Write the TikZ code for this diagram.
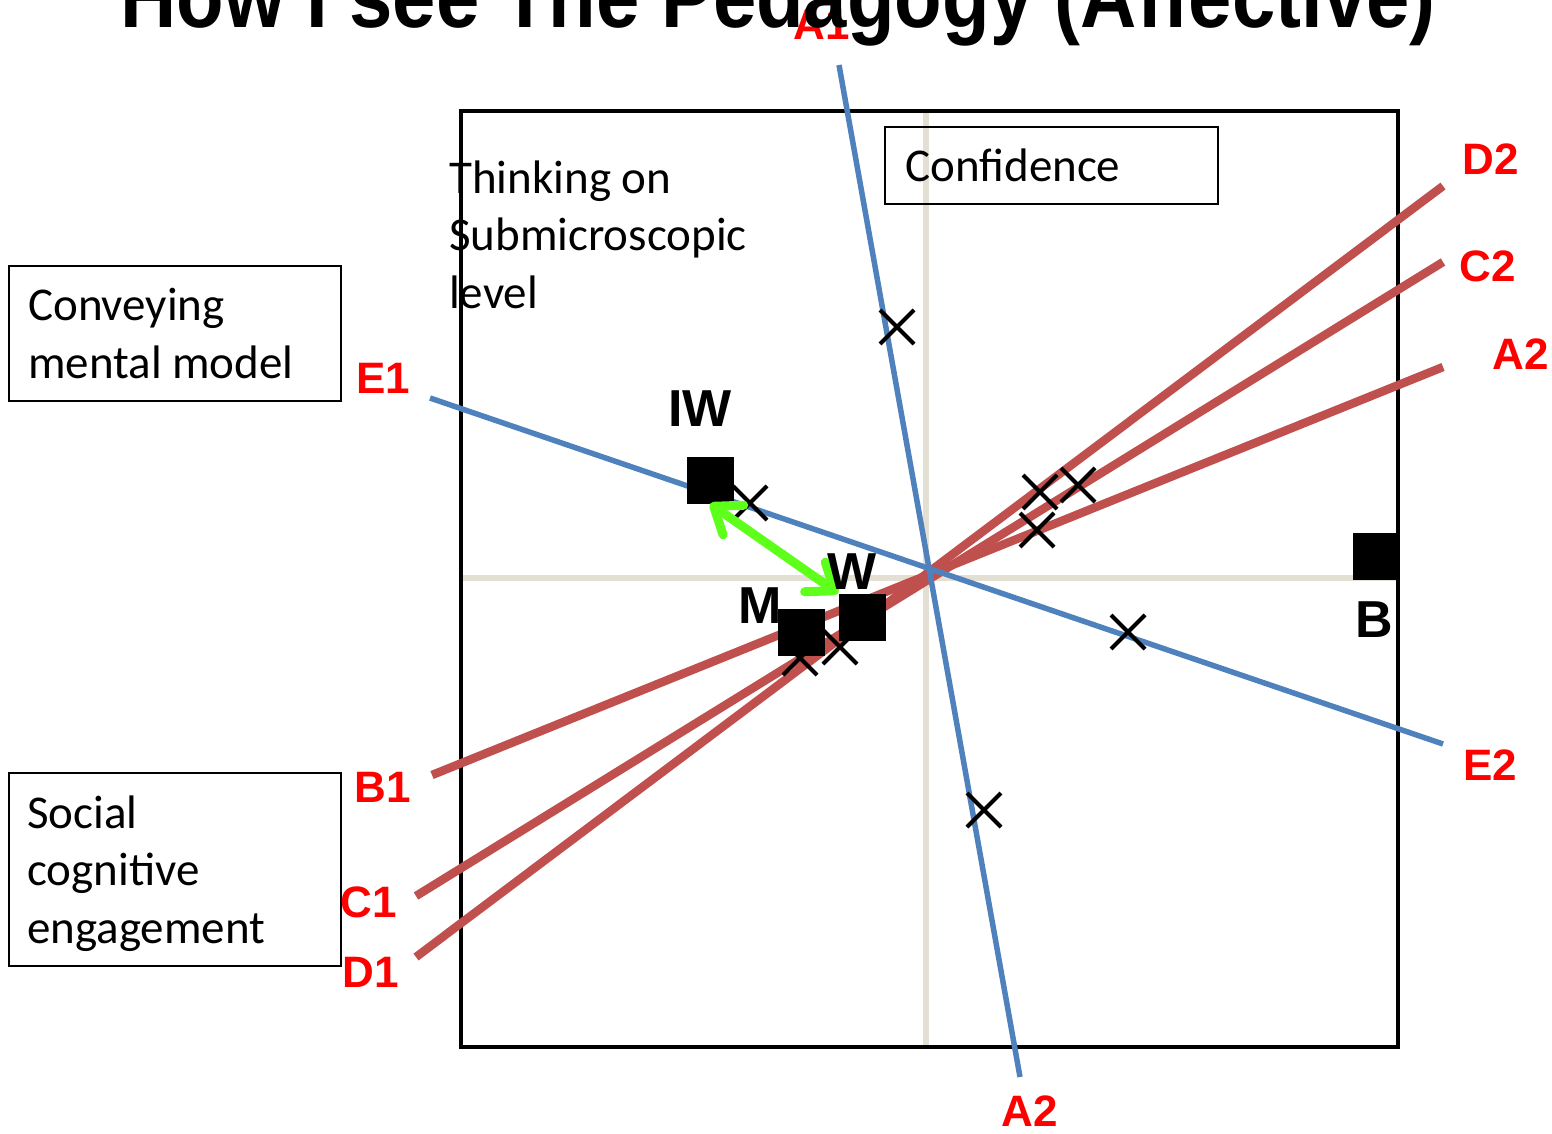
\documentclass[tikz,border=0pt]{standalone}
\usepackage{fontspec}
\setmainfont{Carlito}
\newfontfamily\labfont{Liberation Sans}
\usetikzlibrary{shapes.misc,arrows.meta}
\definecolor{axisgray}{HTML}{E3E0D3}
\definecolor{lineblue}{HTML}{4F81BD}
\definecolor{linered}{HTML}{C0504D}
\definecolor{labred}{HTML}{FF0000}
\definecolor{arrowgreen}{HTML}{5EFF1A}
\tikzset{
  axisline/.style={draw=axisgray, line width=5.5pt},
  frameline/.style={draw=black, line width=4.5pt},
  blueline/.style={draw=lineblue, line width=5.5pt},
  redline/.style={draw=linered, line width=8.5pt},
  textbox/.style={draw=black, line width=1.8pt, inner sep=0pt, anchor=north west},
  boxtext/.style={font=\fontsize{47}{57.5}\selectfont, align=left, anchor=base west, inner sep=0pt},
  redlabel/.style={font=\labfont\bfseries\fontsize{44}{44}\selectfont, text=labred, inner sep=0pt},
  blacklabel/.style={font=\labfont\bfseries\fontsize{52}{52}\selectfont, text=black, inner sep=0pt},
  xmark/.style={cross out, draw=black, line width=4pt, minimum size=30pt, inner sep=0pt},
  sqmark/.style={fill=black, minimum size=47pt, inner sep=0pt},
  greenarrow/.style={draw=arrowgreen, line width=9pt, line cap=round,
    {Straight Barb[length=24pt,width=36pt,round]}-{Straight Barb[length=24pt,width=36pt,round]}}
}
\begin{document}
\begin{tikzpicture}[x=1pt,y=-1pt]
\useasboundingbox (0,0) rectangle (1552,1133);
% axes
\coordinate (axT) at (926,111);
\coordinate (axB) at (926,1047);
\coordinate (axL) at (461,578);
\coordinate (axR) at (1398,578);
\draw[axisline] (axT) -- (axB);
\draw[axisline] (axL) -- (axR);
% frame
\coordinate (frNW) at (461,111);
\coordinate (frSE) at (1398,1047);
\draw[frameline] (frNW) rectangle (frSE);
% text boxes
\node[textbox, minimum width=332pt, minimum height=135pt] (convbox) at (8,265) {};
\node[boxtext] (convtext) at (28,378) {Conveying\\mental model};
\node[textbox, minimum width=332pt, minimum height=193pt] (socbox) at (8,772) {};
\node[boxtext] (soctext) at (27,943) {Social\\cognitive\\engagement};
\node[textbox, minimum width=333pt, minimum height=77pt] (confbox) at (884,126) {};
\node[boxtext] (conftext) at (905,181) {Confidence};
\node[boxtext] (thinktext) at (449,308) {Thinking on\\Submicroscopic\\level};
% line end points
\coordinate (pB1) at (432,775);
\coordinate (pA2r) at (1443,367);
\coordinate (pC1) at (416,896);
\coordinate (pC2) at (1443,262);
\coordinate (pD1) at (416,957);
\coordinate (pD2) at (1443,186);
\coordinate (pA1) at (839,65);
\coordinate (pA2b) at (1020,1077);
\coordinate (pE1) at (430,398);
\coordinate (pE2) at (1443,744);
% red lines
\draw[redline] (pB1) -- (pA2r);
\draw[redline] (pC1) -- (pC2);
\draw[redline] (pD1) -- (pD2);
% blue lines
\draw[blueline] (pA1) -- (pA2b);
\draw[blueline] (pE1) -- (pE2);
% crosses
\node[xmark] (x1) at (897,327) {};
\node[xmark] (x2) at (750,503) {};
\node[xmark] (x3) at (1128,632) {};
\node[xmark] (x4) at (984,810) {};
\node[xmark] (x5) at (1040,492) {};
\node[xmark] (x6) at (1078,485) {};
\node[xmark] (x7) at (1037,530) {};
\node[xmark] (x8) at (800,658) {};
\node[xmark] (x9) at (840,647) {};
% squares
\node[sqmark] (sqIW) at (710,480) {};
\node[sqmark] (sqM) at (801,632) {};
\node[sqmark] (sqW) at (862,617) {};
\node[sqmark] (sqB) at (1376,556) {};
% green arrow
\draw[greenarrow] (sqIW.south) -- (sqW.north west);
% black labels
\node[blacklabel] (lIW) at (700,409) {IW};
\node[blacklabel] (lW) at (852,572) {W};
\node[blacklabel] (lM) at (760,606) {M};
\node[blacklabel] (lB) at (1374,620) {B};
% red labels
\node[redlabel] (lA1) at (822,24) {A1};
\node[redlabel] (lD2) at (1491,159) {D2};
\node[redlabel] (lC2) at (1488,266) {C2};
\node[redlabel] (lA2r) at (1521,354) {A2};
\node[redlabel] (lE1) at (383,378) {E1};
\node[redlabel] (lE2) at (1490,765) {E2};
\node[redlabel] (lB1) at (383,787) {B1};
\node[redlabel] (lC1) at (369,902) {C1};
\node[redlabel] (lD1) at (371,972) {D1};
\node[redlabel] (lA2b) at (1030,1111) {A2};
% title (cut off at top)
\node[anchor=base, inner sep=0pt] (title) at (778,27) {\resizebox{1315pt}{64pt}{\labfont\bfseries How I see The Pedagogy (Affective)}};
\end{tikzpicture}
\end{document}
